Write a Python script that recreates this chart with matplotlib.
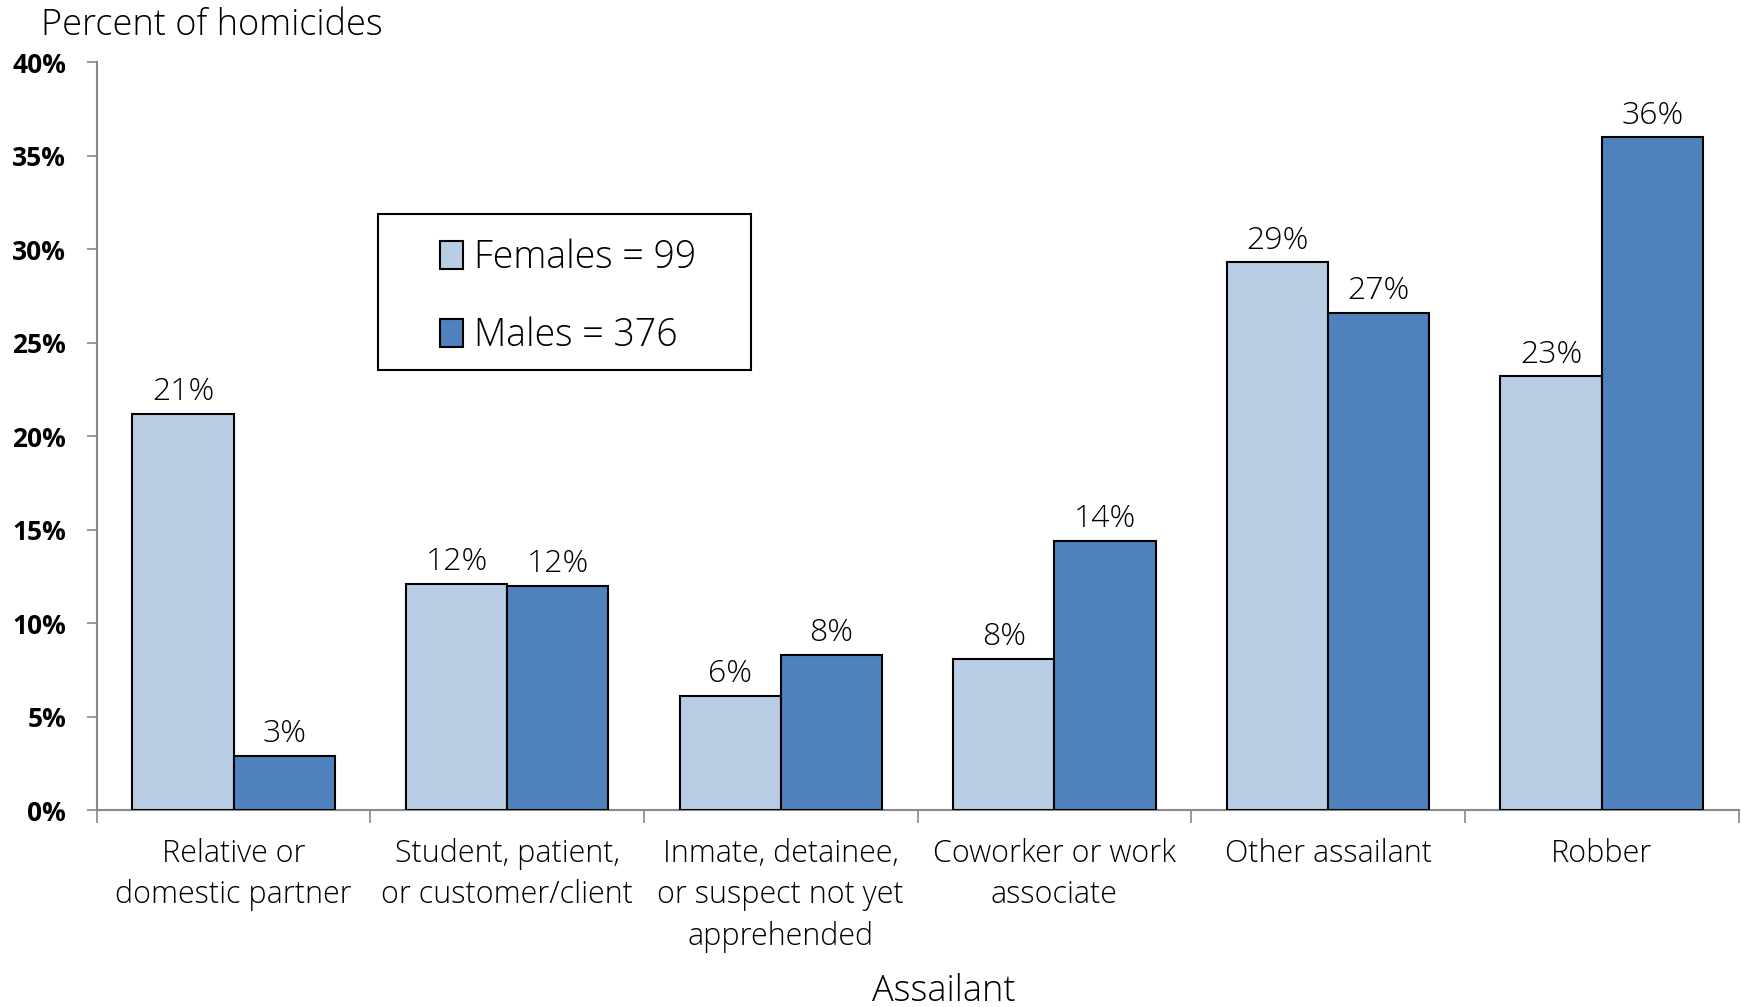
import matplotlib.pyplot as plt
from matplotlib.patches import Rectangle
import numpy as np

# Data
categories = ['Relative or\ndomestic partner', 'Student, patient,\nor customer/client',
              'Inmate, detainee,\nor suspect not yet\napprehended', 'Coworker or work\nassociate',
              'Other assailant', 'Robber']
females = [21.2, 12.1, 6.1, 8.1, 29.3, 23.2]
males = [2.9, 12.0, 8.3, 14.4, 26.6, 36.0]
female_labels = ['21%', '12%', '6%', '8%', '29%', '23%']
male_labels = ['3%', '12%', '8%', '14%', '27%', '36%']
yticks = [0, 5, 10, 15, 20, 25, 30, 35, 40]

FONT = 'Open Sans'
light_blue = '#B9CDE5'
dark_blue = '#4F81BD'

fig = plt.figure(figsize=(17.42, 10.07), dpi=100)
ax = fig.add_axes([0.0555, 0.1956, 0.9425, 0.7424])

x = np.arange(len(categories))
w = 0.37
b1 = ax.bar(x - w / 2, females, w, color=light_blue, edgecolor='black', linewidth=1.5,
            label='Females = 99', zorder=3)
b2 = ax.bar(x + w / 2, males, w, color=dark_blue, edgecolor='black', linewidth=1.5,
            label='Males = 376', zorder=3)

# value labels above bars
for bars, labs in [(b1, female_labels), (b2, male_labels)]:
    for rect, lab in zip(bars, labs):
        ax.text(rect.get_x() + rect.get_width() / 2, rect.get_height() + 0.3, lab,
                ha='center', va='bottom', fontsize=23, family=FONT, fontweight='light')

ax.set_xlim(-0.5, len(categories) - 0.5)
ax.set_ylim(0, 40)
ax.set_yticks(yticks)
ax.set_yticklabels([f'{t}%' for t in yticks], fontsize=19, family=FONT, fontweight='bold')

ax.set_xticks(x)
ax.set_xticklabels(categories, fontsize=22, family=FONT, fontweight='light', linespacing=1.4)
ax.tick_params(axis='x', length=0, pad=20)
ax.set_xticks(np.arange(len(categories) + 1) - 0.5, minor=True)
ax.tick_params(axis='x', which='minor', length=9, color='#888888', width=1.2)
ax.tick_params(axis='y', length=7, color='#888888', width=1.2, pad=15)

for s in ['top', 'right']:
    ax.spines[s].set_visible(False)
for s in ['left', 'bottom']:
    ax.spines[s].set_color('#888888')
    ax.spines[s].set_linewidth(1.5)

fig.text(0.0235, 0.975, 'Percent of homicides', fontsize=26, family=FONT, fontweight='light',
         ha='left', va='center')
fig.text(0.542, 0.015, 'Assailant', fontsize=26, family=FONT, fontweight='light',
         ha='center', va='center')

# legend without its own frame, boxed separately
leg = ax.legend(loc='upper left', bbox_to_anchor=(0.2526, 0.763), bbox_transform=fig.transFigure,
                frameon=False, prop={'family': FONT, 'size': 27, 'weight': 'light'},
                handlelength=0.6, handleheight=0.8, handletextpad=0.3, labelspacing=1.05,
                borderpad=0, borderaxespad=0)
fig.patches.append(Rectangle((0.217, 0.6326), 0.214, 0.155, transform=fig.transFigure,
                             fill=False, edgecolor='black', linewidth=1.5, zorder=5))

fig.savefig('out.png', dpi=100)
